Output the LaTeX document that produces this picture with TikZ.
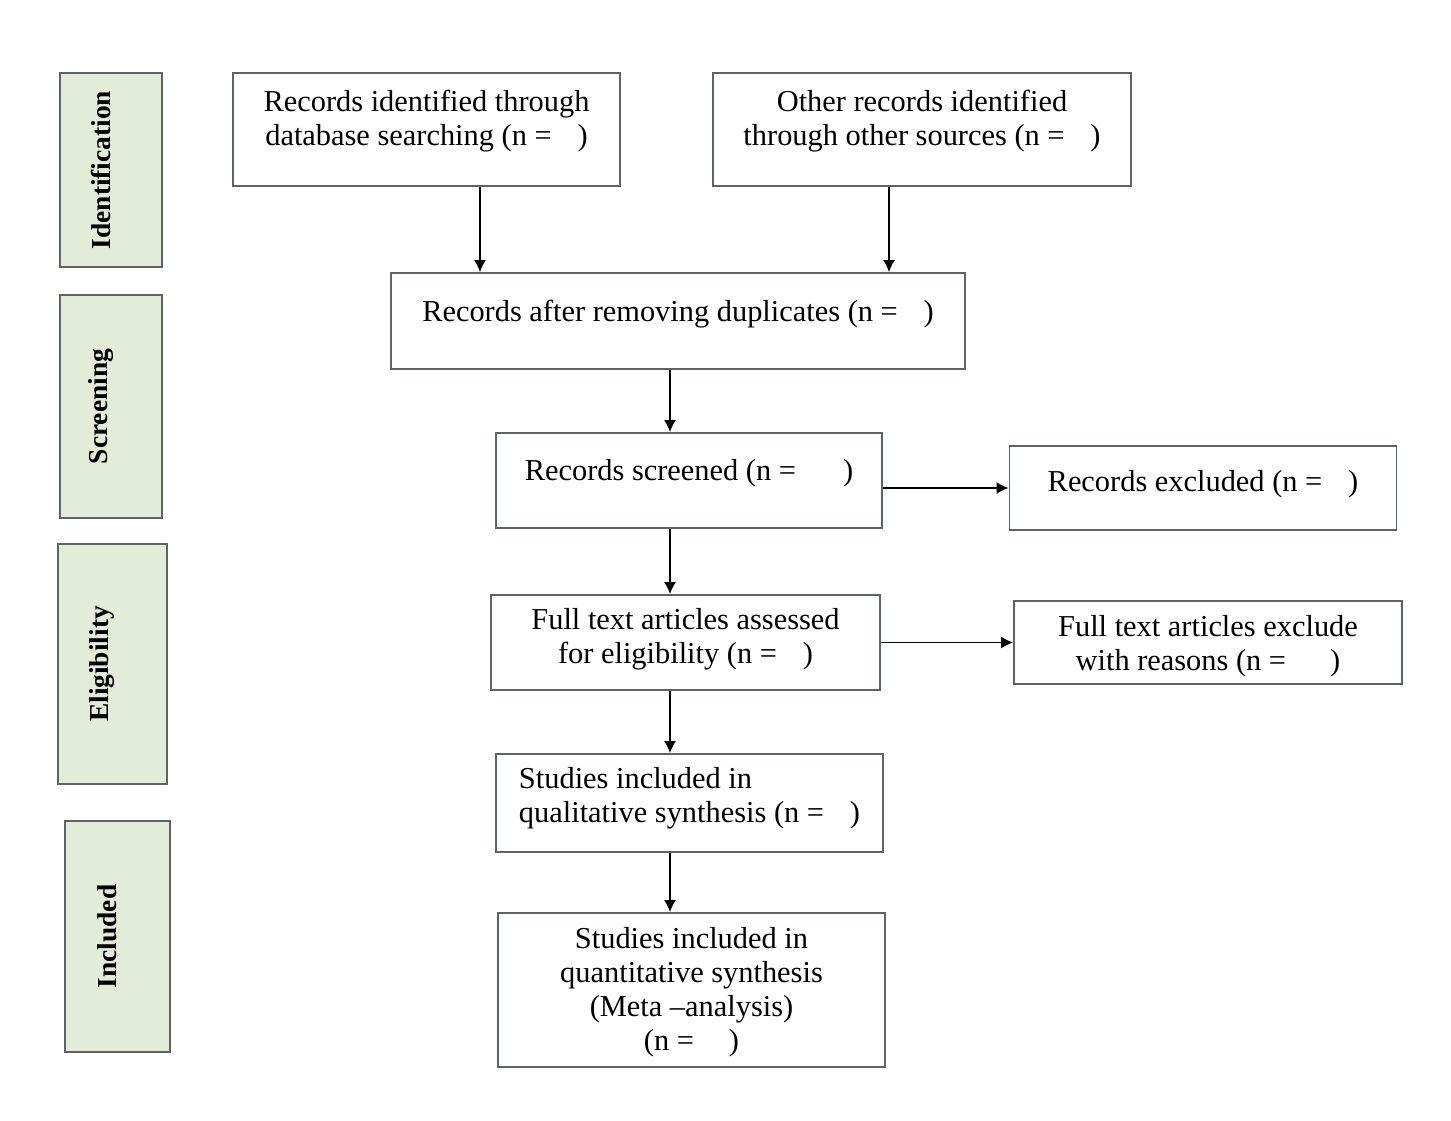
\documentclass[tikz,border=0pt]{standalone}
\usepackage{fontspec}
\setmainfont{Liberation Serif}
\usetikzlibrary{arrows.meta}
\definecolor{stagefill}{HTML}{E3ECD8}
\definecolor{edge}{HTML}{5E6464}
\begin{document}
\begin{tikzpicture}[x=.5pt,y=-.5pt,font=\fontsize{15.2}{17}\selectfont,
  wh/.style 2 args={minimum width=#1*.5pt,minimum height=#2*.5pt},
  box/.style={draw=edge,line width=.9pt,align=center,inner sep=0pt},
  stage/.style={draw=edge,fill=stagefill,line width=.9pt,inner sep=0pt,font=\fontsize{13.7}{16}\selectfont\bfseries},
  arr/.style={-{Latex[length=6pt,width=6pt]},line width=.8pt}]
\useasboundingbox (0,0) rectangle (1451,1120);
% stages down the left side
\node[stage,wh={102}{194}] (ident) at (111,170){\rotatebox{90}{Identification}\kern10pt};
\node[stage,wh={102}{223}] (screen) at (111,406.5){\rotatebox{90}{Screening}\kern10pt};
\node[stage,wh={109}{240}] (elig) at (112.5,664){\rotatebox{90}{Eligibility}\kern10pt};
\node[stage,wh={105}{231}] (incl) at (117.5,936.5){\rotatebox{90}{Included}\kern10pt};
% flow boxes
\node[box,wh={387}{113},text depth=12pt] (db) at (426.5,129.5){Records identified through\\database searching (n = \hspace{.6em})};
\node[box,wh={418}{113},text depth=12pt] (other) at (922,129.5){Other records identified\\through other sources (n = \hspace{.6em})};
\node[box,wh={574}{96},text depth=10pt] (dedup) at (678,321){Records after removing duplicates (n = \hspace{.6em})};
\node[box,wh={386}{95},text depth=11pt] (screened) at (689,480.5){Records screened (n = \hspace{1.3em})};
\node[box,wh={387}{84},text depth=7pt] (excl) at (1203,488){Records excluded (n = \hspace{.6em})};
\node[box,wh={389}{95},text depth=7pt] (fulltext) at (685.5,642.5){Full text articles assessed\\for eligibility (n = \hspace{.6em})};
\node[box,wh={388}{83},text depth=0pt] (fullexcl) at (1208,642.5){Full text articles exclude\\with reasons (n = \hspace{1.2em})};
\node[box,wh={387}{98},text depth=8pt,align=left] (qual) at (689.5,803){Studies included in\\qualitative synthesis (n = \hspace{.6em})};
\node[box,wh={387}{154},text depth=1pt] (quant) at (691.5,990){Studies included in\\quantitative synthesis\\(Meta --analysis)\\(n = \hspace{.9em})};
% connectors
\coordinate (c1) at (480,0);\coordinate (c2) at (889,0);\coordinate (sp) at (670,0);
\draw[arr] (db.south -| c1)--(dedup.north -| c1);
\draw[arr] (other.south -| c2)--(dedup.north -| c2);
\draw[arr] (dedup.south -| sp)--(screened.north -| sp);
\draw[arr] (screened.south -| sp)--(fulltext.north -| sp);
\draw[arr] (fulltext.south -| sp)--(qual.north -| sp);
\draw[arr] (qual.south -| sp)--(quant.north -| sp);
\draw[arr] (screened.east |- excl)--(excl.west);
\draw[arr] (fulltext.east |- fullexcl)--(fullexcl.west);
\end{tikzpicture}
\end{document}
